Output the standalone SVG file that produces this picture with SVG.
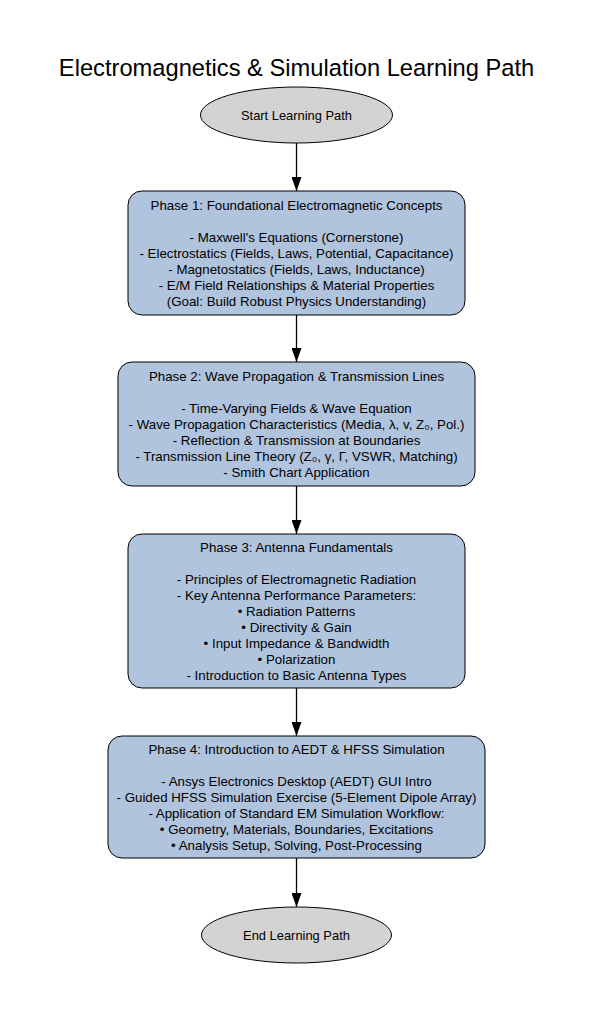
<svg xmlns="http://www.w3.org/2000/svg" width="593" height="1013" viewBox="0 0 593 1013">
  <defs>
    <marker id="arrow" viewBox="0 0 14 10" refX="14" refY="5" markerWidth="14" markerHeight="10" markerUnits="userSpaceOnUse" orient="auto">
      <path d="M0,0 L14,5 L0,10 Z" fill="#000"/>
    </marker>
    <style>
      text { font-family: "Liberation Sans", Arial, sans-serif; fill: #000; text-anchor: middle; }
      .title { font-size: 23.7px; }
      .lbl { font-size: 13.3px; }
      .term-lbl { font-size: 12.9px; }
      .term { fill: #d3d3d3; stroke: #000; stroke-width: 1; }
      .phase { fill: #b0c4de; stroke: #000; stroke-width: 1; }
      .edge { stroke: #000; stroke-width: 1.3; fill: none; marker-end: url(#arrow); }
    </style>
  </defs>
  <rect width="593" height="1013" fill="#fff"/>
  <text class="title" x="296.5" y="76">Electromagnetics &amp; Simulation Learning Path</text>

  <g id="connectors">
    <line class="edge" x1="296.5" y1="143" x2="296.5" y2="191"/>
    <line class="edge" x1="296.5" y1="315" x2="296.5" y2="362"/>
    <line class="edge" x1="296.5" y1="486" x2="296.5" y2="534"/>
    <line class="edge" x1="296.5" y1="688" x2="296.5" y2="736"/>
    <line class="edge" x1="296.5" y1="858" x2="296.5" y2="907"/>
  </g>

  <g id="start">
    <ellipse class="term" cx="296.5" cy="115" rx="96" ry="28"/>
    <text class="term-lbl" x="296.5" y="119.5">Start Learning Path</text>
  </g>

  <g id="phase1">
    <rect class="phase" x="128" y="191" width="337" height="124" rx="14"/>
    <text class="lbl" x="296.5" y="210">Phase 1: Foundational Electromagnetic Concepts</text>
    <text class="lbl" x="296.5" y="242">- Maxwell's Equations (Cornerstone)</text>
    <text class="lbl" x="296.5" y="258">- Electrostatics (Fields, Laws, Potential, Capacitance)</text>
    <text class="lbl" x="296.5" y="274">- Magnetostatics (Fields, Laws, Inductance)</text>
    <text class="lbl" x="296.5" y="290">- E/M Field Relationships &amp; Material Properties</text>
    <text class="lbl" x="296.5" y="306">(Goal: Build Robust Physics Understanding)</text>
  </g>

  <g id="phase2">
    <rect class="phase" x="118" y="362" width="357" height="124" rx="14"/>
    <text class="lbl" x="296.5" y="381">Phase 2: Wave Propagation &amp; Transmission Lines</text>
    <text class="lbl" x="296.5" y="413">- Time-Varying Fields &amp; Wave Equation</text>
    <text class="lbl" x="296.5" y="429">- Wave Propagation Characteristics (Media, λ, v, Z₀, Pol.)</text>
    <text class="lbl" x="296.5" y="445">- Reflection &amp; Transmission at Boundaries</text>
    <text class="lbl" x="296.5" y="461">- Transmission Line Theory (Z₀, γ, Γ, VSWR, Matching)</text>
    <text class="lbl" x="296.5" y="477">- Smith Chart Application</text>
  </g>

  <g id="phase3">
    <rect class="phase" x="128" y="534" width="337" height="154" rx="14"/>
    <text class="lbl" x="296.5" y="552">Phase 3: Antenna Fundamentals</text>
    <text class="lbl" x="296.5" y="584">- Principles of Electromagnetic Radiation</text>
    <text class="lbl" x="296.5" y="600">- Key Antenna Performance Parameters:</text>
    <text class="lbl" x="296.5" y="616">• Radiation Patterns</text>
    <text class="lbl" x="296.5" y="632">• Directivity &amp; Gain</text>
    <text class="lbl" x="296.5" y="648">• Input Impedance &amp; Bandwidth</text>
    <text class="lbl" x="296.5" y="664">• Polarization</text>
    <text class="lbl" x="296.5" y="680">- Introduction to Basic Antenna Types</text>
  </g>

  <g id="phase4">
    <rect class="phase" x="108" y="736" width="377" height="122" rx="14"/>
    <text class="lbl" x="296.5" y="754">Phase 4: Introduction to AEDT &amp; HFSS Simulation</text>
    <text class="lbl" x="296.5" y="786">- Ansys Electronics Desktop (AEDT) GUI Intro</text>
    <text class="lbl" x="296.5" y="802">- Guided HFSS Simulation Exercise (5-Element Dipole Array)</text>
    <text class="lbl" x="296.5" y="818">- Application of Standard EM Simulation Workflow:</text>
    <text class="lbl" x="296.5" y="834">• Geometry, Materials, Boundaries, Excitations</text>
    <text class="lbl" x="296.5" y="850">• Analysis Setup, Solving, Post-Processing</text>
  </g>

  <g id="end">
    <ellipse class="term" cx="296.5" cy="935" rx="95" ry="28"/>
    <text class="term-lbl" x="296.5" y="939.5">End Learning Path</text>
  </g>
</svg>
